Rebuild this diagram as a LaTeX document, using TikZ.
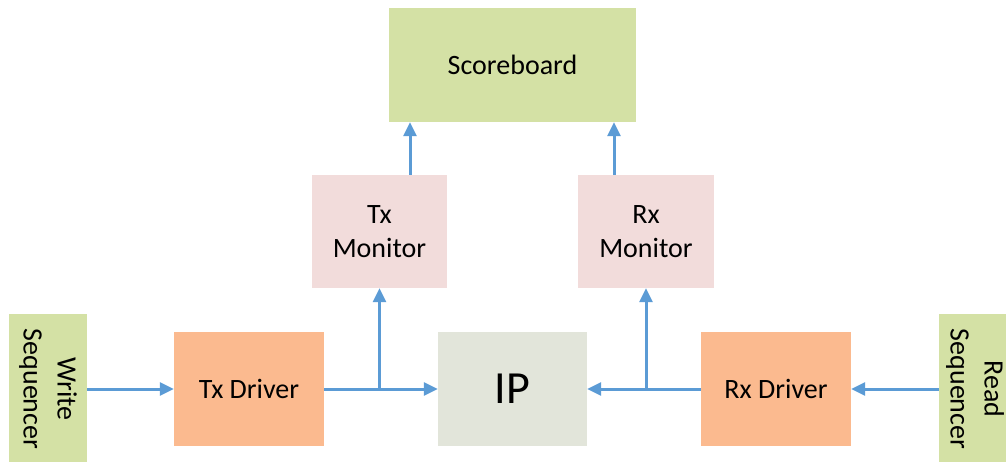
\documentclass[tikz,border=0pt]{standalone}
\usepackage{fontspec}
\setmainfont{Carlito}
\usetikzlibrary{arrows.meta}
\definecolor{sbgreen}{HTML}{D4E1A5}
\definecolor{monpink}{HTML}{F2DCDB}
\definecolor{drvorange}{HTML}{FBBA8F}
\definecolor{ipgrey}{HTML}{E2E5DA}
\definecolor{flowblue}{HTML}{5B9BD5}
\tikzset{
  blk/.style={rectangle, inner sep=0pt, align=center, text=black,
    font=\fontsize{28}{34}\selectfont},
  flow/.style={draw=flowblue, line width=3pt,
    -{Triangle[length=14pt,width=13pt]}},
  link/.style={draw=flowblue, line width=3pt}
}
\begin{document}
\begin{tikzpicture}[x=1pt,y=-1pt]
  \useasboundingbox (0,0) rectangle (1006,461);
  \clip (0,0) rectangle (1006,461);
  % blocks
  \node[blk, fill=sbgreen, minimum width=247pt, minimum height=114pt] (sb) at (512.5,65) {Scoreboard};
  \node[blk, fill=monpink, minimum width=135pt, minimum height=113pt] (txm) at (379.5,231.5) {Tx\\Monitor};
  \node[blk, fill=monpink, minimum width=136pt, minimum height=113pt] (rxm) at (646,231.5) {Rx\\Monitor};
  \node[blk, fill=drvorange, minimum width=150pt, minimum height=114pt] (txd) at (249,389) {Tx Driver};
  \node[blk, fill=ipgrey, minimum width=149pt, minimum height=114pt, font=\fontsize{46}{50}\selectfont] (ip) at (512.5,389) {IP};
  \node[blk, fill=drvorange, minimum width=150pt, minimum height=114pt] (rxd) at (776,389) {Rx Driver};
  \node[blk, fill=sbgreen, minimum width=78pt, minimum height=150pt] (wsq) at (48,389) {};
  \node[blk, rotate=-90] at (wsq.center) {Write\\Sequencer};
  \node[blk, fill=sbgreen, minimum width=78pt, minimum height=150pt] (rsq) at (978,389) {};
  \node[blk, rotate=-90] at ([xshift=-3pt]rsq.center) {Read\\Sequencer};
  % branch points and scoreboard feeds
  \coordinate (tb) at (txm.south |- txd.east);
  \coordinate (rb) at (rxm.south |- rxd.west);
  \coordinate (tsx) at (410,0);
  \coordinate (rsx) at (614,0);
  % connectors
  \draw[flow] (wsq.east |- txd.west) -- (txd.west);
  \draw[flow] (txd.east) -- (ip.west);
  \draw[flow] (tb) -- (txm.south);
  \draw[flow] (rsq.west |- rxd.east) -- (rxd.east);
  \draw[flow] (rxd.west) -- (ip.east);
  \draw[flow] (rb) -- (rxm.south);
  \draw[flow] (txm.north -| tsx) -- (sb.south -| tsx);
  \draw[flow] (rxm.north -| rsx) -- (sb.south -| rsx);
\end{tikzpicture}
\end{document}
